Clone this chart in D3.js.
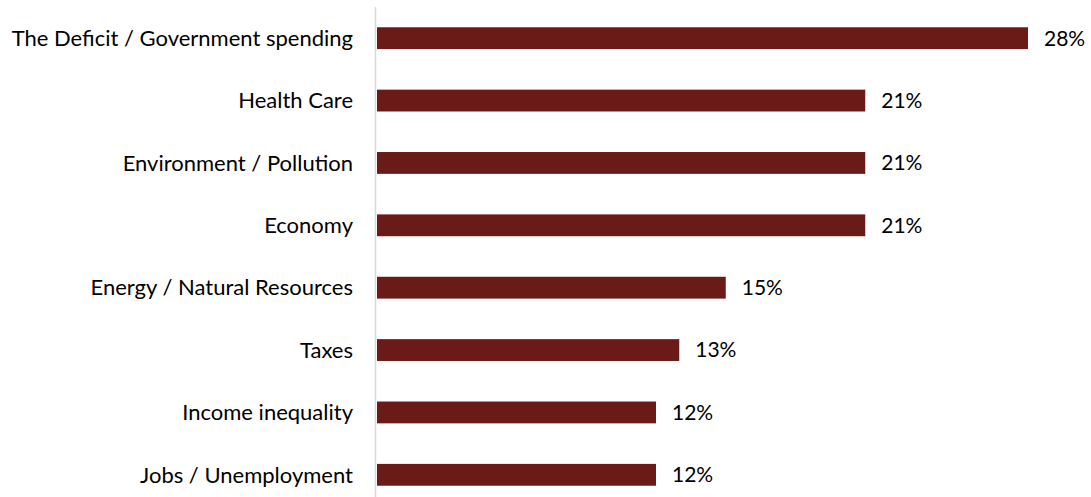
<!DOCTYPE html>
<html>
<head>
<meta charset="utf-8">
<script src="https://cdn.jsdelivr.net/npm/d3@7"></script>
<style>
  body { margin: 0; background: #fff; }
  text { font-family: Lato, "Noto Sans", sans-serif; fill: #000; }
</style>
</head>
<body>
<div id="chart"></div>
<script>
var svgWidth = 1091;
var svgHeight = 497;

// data
var categories = ["The Deficit / Government spending", "Health Care", "Environment / Pollution",
  "Economy", "Energy / Natural Resources", "Taxes", "Income inequality", "Jobs / Unemployment"];
var values = [28, 21, 21, 21, 15, 13, 12, 12];
var valueLabels = ["28%", "21%", "21%", "21%", "15%", "13%", "12%", "12%"];

var rows = categories.map(function(c, i) {
  return {cat: c, val: values[i], label: valueLabels[i]};
});

var svg = d3.select("#chart")
  .append("svg")
    .attr("width", svgWidth)
    .attr("height", svgHeight);

// scales
var xScale = d3.scaleLinear()
  .domain([0, 30])
  .range([377, 1074.5]);

var yScale = d3.scaleBand()
  .domain(categories)
  .range([7, 506])
  .paddingInner(0.65)
  .paddingOuter(0.325);

// bars
svg.selectAll("rect.bar")
  .data(rows)
  .enter()
  .append("rect")
    .attr("class", "bar")
    .attr("x", xScale(0))
    .attr("y", d => yScale(d.cat))
    .attr("width", d => xScale(d.val) - xScale(0))
    .attr("height", yScale.bandwidth())
    .attr("fill", "#6a1a17");

// vertical axis line
svg.append("line")
  .attr("x1", 375.5).attr("x2", 375.5)
  .attr("y1", 7).attr("y2", svgHeight)
  .attr("stroke", "#d9d9d9")
  .attr("stroke-width", 1.5);

// category labels
svg.selectAll("text.cat")
  .data(rows)
  .enter()
  .append("text")
    .attr("class", "cat")
    .attr("x", 353)
    .attr("y", d => yScale(d.cat) + yScale.bandwidth() / 2)
    .attr("dy", "0.35em")
    .attr("text-anchor", "end")
    .style("font-size", "22px")
    .text(d => d.cat);

// value labels
svg.selectAll("text.val")
  .data(rows)
  .enter()
  .append("text")
    .attr("class", "val")
    .attr("x", d => xScale(d.val) + 16)
    .attr("y", d => yScale(d.cat) + yScale.bandwidth() / 2)
    .attr("dy", "0.35em")
    .style("font-size", "21px")
    .text(d => d.label);
</script>
</body>
</html>
